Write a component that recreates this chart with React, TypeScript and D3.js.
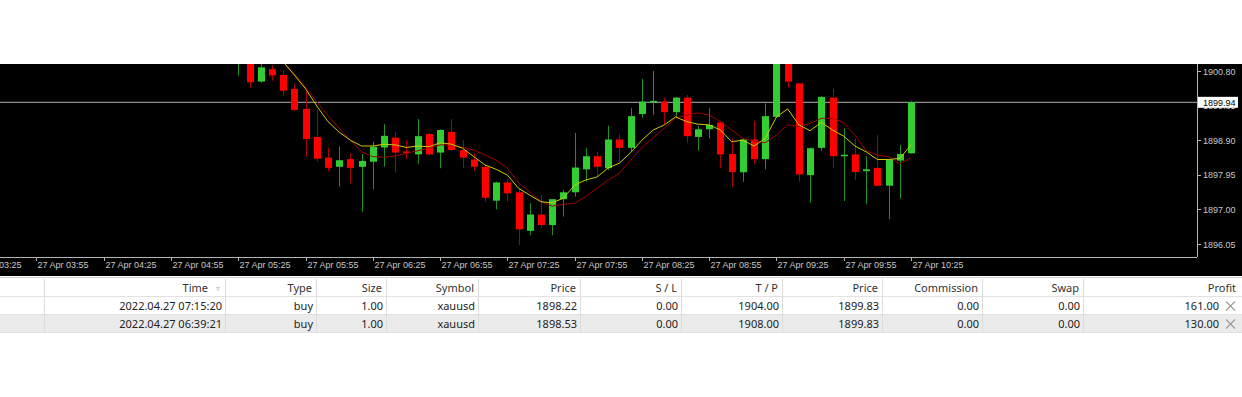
import React from 'react';
import * as d3 from 'd3';

// 5-minute candles, 27 Apr, from 05:25 onwards (earlier bars sit above the visible range)
const candleTimes = [
  '05:25', '05:30', '05:35', '05:40', '05:45', '05:50', '05:55', '06:00', '06:05', '06:10',
  '06:15', '06:20', '06:25', '06:30', '06:35', '06:40', '06:45', '06:50', '06:55', '07:00',
  '07:05', '07:10', '07:15', '07:20', '07:25', '07:30', '07:35', '07:40', '07:45', '07:50',
  '07:55', '08:00', '08:05', '08:10', '08:15', '08:20', '08:25', '08:30', '08:35', '08:40',
  '08:45', '08:50', '08:55', '09:00', '09:05', '09:10', '09:15', '09:20', '09:25', '09:30',
  '09:35', '09:40', '09:45', '09:50', '09:55', '10:00', '10:05', '10:10', '10:15', '10:20',
  '10:25',
];
const opens = [
  1901.30, 1901.00, 1900.51, 1900.85, 1900.69, 1900.31, 1899.76, 1898.99, 1898.42, 1898.17,
  1898.38, 1898.17, 1898.31, 1898.70, 1898.97, 1898.59, 1898.51, 1899.07, 1898.56, 1899.13,
  1898.63, 1898.37, 1898.17, 1897.24, 1897.74, 1897.47, 1896.41, 1896.86, 1896.57, 1897.28,
  1897.47, 1898.10, 1898.46, 1898.13, 1898.92, 1898.69, 1899.62, 1899.95, 1899.96, 1899.67,
  1900.07, 1898.99, 1899.20, 1899.39, 1898.52, 1898.02, 1898.92, 1898.38, 1899.54, 1901.05,
  1900.46, 1897.94, 1898.69, 1900.07, 1898.47, 1898.51, 1898.05, 1898.14, 1897.65, 1898.34,
  1898.54,
];
const highs = [
  1901.80, 1901.10, 1900.99, 1900.96, 1900.81, 1900.46, 1900.23, 1899.73, 1898.70, 1898.72,
  1898.54, 1898.52, 1898.86, 1899.34, 1899.13, 1898.90, 1899.48, 1899.10, 1899.20, 1899.48,
  1898.90, 1898.54, 1898.22, 1897.76, 1897.85, 1897.58, 1897.17, 1897.39, 1897.28, 1897.53,
  1899.10, 1898.69, 1898.58, 1899.30, 1899.07, 1899.78, 1900.58, 1900.80, 1900.07, 1900.08,
  1900.14, 1899.29, 1899.78, 1899.43, 1898.95, 1898.93, 1899.43, 1899.91, 1901.20, 1901.20,
  1900.47, 1898.70, 1900.11, 1900.31, 1899.23, 1898.95, 1898.46, 1899.04, 1898.38, 1898.77,
  1899.98,
];
const lows = [
  1900.67, 1900.34, 1900.48, 1900.53, 1900.12, 1899.71, 1898.45, 1898.31, 1898.05, 1897.62,
  1897.71, 1896.93, 1897.55, 1898.17, 1898.01, 1898.38, 1898.25, 1898.49, 1898.13, 1898.60,
  1898.13, 1898.05, 1897.21, 1897.00, 1897.21, 1896.02, 1896.29, 1896.48, 1896.29, 1896.80,
  1897.35, 1897.76, 1897.90, 1898.08, 1898.26, 1898.58, 1899.52, 1899.59, 1899.32, 1899.54,
  1898.83, 1898.61, 1898.95, 1898.13, 1897.62, 1897.76, 1898.25, 1898.10, 1899.51, 1900.34,
  1897.76, 1897.18, 1898.61, 1898.14, 1897.23, 1897.81, 1897.14, 1897.64, 1896.73, 1897.30,
  1898.53,
];
const closes = [
  1901.60, 1900.49, 1900.90, 1900.68, 1900.26, 1899.73, 1898.93, 1898.39, 1898.14, 1898.35,
  1898.14, 1898.33, 1898.72, 1899.02, 1898.56, 1898.55, 1899.01, 1898.51, 1899.18, 1898.63,
  1898.42, 1898.17, 1897.32, 1897.74, 1897.44, 1896.45, 1896.86, 1896.57, 1897.28, 1897.47,
  1898.15, 1898.46, 1898.17, 1898.92, 1898.69, 1899.56, 1899.96, 1899.98, 1899.67, 1900.07,
  1899.01, 1899.20, 1899.32, 1898.51, 1898.03, 1898.92, 1898.38, 1899.56, 1901.10, 1900.51,
  1897.96, 1898.68, 1900.09, 1898.46, 1898.50, 1898.03, 1898.10, 1897.65, 1898.37, 1898.52,
  1899.94,
];

// moving averages (null = above the visible range)
const maFast = [
  null, null, null, 1901.50, 1901.05, 1900.69, 1900.31, 1899.84, 1899.41, 1899.12,
  1898.90, 1898.74, 1898.74, 1898.79, 1898.77, 1898.70, 1898.74, 1898.72, 1898.83, 1898.79,
  1898.68, 1898.45, 1898.22, 1898.10, 1897.94, 1897.58, 1897.39, 1897.21, 1897.18, 1897.31,
  1897.67, 1897.81, 1897.89, 1898.14, 1898.27, 1898.56, 1898.90, 1899.18, 1899.32, 1899.54,
  1899.41, 1899.34, 1899.32, 1899.18, 1898.86, 1898.90, 1898.74, 1898.95, 1899.54, 1899.76,
  1899.32, 1899.16, 1899.39, 1899.18, 1899.01, 1898.74, 1898.58, 1898.37, 1898.37, 1898.40,
  1898.77,
];
const maSlow = [
  null, null, null, 1901.45, 1901.05, 1900.72, 1900.36, 1899.96, 1899.57, 1899.23,
  1898.90, 1898.58, 1898.45, 1898.43, 1898.47, 1898.54, 1898.61, 1898.69, 1898.77, 1898.77,
  1898.70, 1898.63, 1898.49, 1898.35, 1898.13, 1897.73, 1897.48, 1897.21, 1897.09, 1897.14,
  1897.17, 1897.35, 1897.58, 1897.81, 1897.99, 1898.35, 1898.70, 1898.97, 1899.23, 1899.51,
  1899.59, 1899.65, 1899.59, 1899.41, 1899.18, 1898.95, 1898.88, 1898.83, 1899.04, 1899.32,
  1899.27, 1899.36, 1899.50, 1899.50, 1899.38, 1899.04, 1898.61, 1898.49, 1898.45, 1898.25,
  1898.42,
];

const timeTicks = [
  '27 Apr 03:25', '27 Apr 03:55', '27 Apr 04:25', '27 Apr 04:55', '27 Apr 05:25',
  '27 Apr 05:55', '27 Apr 06:25', '27 Apr 06:55', '27 Apr 07:25', '27 Apr 07:55',
  '27 Apr 08:25', '27 Apr 08:55', '27 Apr 09:25', '27 Apr 09:55', '27 Apr 10:25',
];
const priceTicks = [1900.80, 1899.85, 1898.90, 1897.95, 1897.00, 1896.05];
const currentPrice = 1899.94;

const tableHeaders = ['', 'Time', 'Type', 'Size', 'Symbol', 'Price', 'S / L', 'T / P', 'Price', 'Commission', 'Swap', 'Profit'];
const tableRows = [
  ['', '2022.04.27 07:15:20', 'buy', '1.00', 'xauusd', '1898.22', '0.00', '1904.00', '1899.83', '0.00', '0.00', '161.00'],
  ['', '2022.04.27 06:39:21', 'buy', '1.00', 'xauusd', '1898.53', '0.00', '1908.00', '1899.83', '0.00', '0.00', '130.00'],
];

const W = 1242;
const H = 397;
const plot = { left: 0, right: 1197, top: 64, bottom: 257 };
const colEdges = [0, 44, 225, 316, 386, 478, 580, 681, 782, 882, 982, 1083, 1242];

const toMin = (s: string) => {
  const [h, m] = s.slice(-5).split(':').map(Number);
  return h * 60 + m;
};

export default function App() {
  const x = d3.scaleLinear()
    .domain([toMin(candleTimes[0]), toMin(candleTimes[candleTimes.length - 1])])
    .range([238.3, 911]);
  const y = d3.scaleLinear()
    .domain([1896.05, 1900.80])
    .range([244, 71]);

  const bodyW = 7;
  const bull = '#32cd32';
  const bear = '#ff0000';

  const mkLine = (vals: (number | null)[]) => d3.line<number | null>()
    .defined(v => v !== null)
    .x((_, i) => x(toMin(candleTimes[i])))
    .y(v => y(v as number))(vals) || '';

  const font = 'Tahoma, "Liberation Sans", Arial, sans-serif';
  const tblFont = '"Noto Sans", "Open Sans", sans-serif';
  const rowTop = [279, 297, 315];
  const rowH = 18;

  return (
    <svg width={W} height={H} style={{ position: 'absolute', left: 0, top: 0, background: '#fff' }}>
      <defs>
        <clipPath id="plotclip">
          <rect x={plot.left} y={plot.top} width={plot.right - plot.left} height={plot.bottom - plot.top} />
        </clipPath>
      </defs>
      {/* chart background */}
      <rect x={0} y={plot.top} width={W} height={276 - plot.top} fill="#000" />

      <g clipPath="url(#plotclip)">
        {/* current price line */}
        <line x1={plot.left} x2={plot.right} y1={y(currentPrice)} y2={y(currentPrice)} stroke="#8c8c8c" strokeWidth={1.2} />
        {candleTimes.map((t, i) => {
          const cx = Math.round(x(toMin(t))) + 0.5;
          const up = closes[i] >= opens[i];
          const top = y(Math.max(opens[i], closes[i]));
          const bot = y(Math.min(opens[i], closes[i]));
          return (
            <g key={t}>
              <line x1={cx} x2={cx} y1={y(highs[i])} y2={y(lows[i])} stroke={up ? '#1f8f1f' : '#a80000'} strokeWidth={1} />
              <rect x={cx - bodyW / 2} y={top} width={bodyW} height={Math.max(1.5, bot - top)} fill={up ? bull : bear} />
            </g>
          );
        })}
        <path d={mkLine(maSlow)} fill="none" stroke="#a00000" strokeWidth={1} />
        <path d={mkLine(maFast)} fill="none" stroke="#cccc00" strokeWidth={1} />
      </g>

      {/* axes */}
      <line x1={plot.right + 0.5} x2={plot.right + 0.5} y1={plot.top} y2={plot.bottom} stroke="#b4b4b4" />
      <line x1={0} x2={plot.right} y1={plot.bottom + 0.5} y2={plot.bottom + 0.5} stroke="#b4b4b4" />

      {priceTicks.map(p => (
        <g key={p}>
          <line x1={plot.right} x2={plot.right + 4} y1={Math.round(y(p)) + 0.5} y2={Math.round(y(p)) + 0.5} stroke="#b4b4b4" />
          <text x={plot.right + 6} y={y(p) + 3.5} fill="#c8c8c8" fontSize={9} fontFamily={font}>{p.toFixed(2)}</text>
        </g>
      ))}
      {/* current price label */}
      <rect x={plot.right + 1} y={y(currentPrice) - 5.5} width={40} height={11} fill="#fff" />
      <text x={plot.right + 6} y={y(currentPrice) + 3.5} fill="#000" fontSize={9} fontFamily={font}>{currentPrice.toFixed(2)}</text>

      {timeTicks.map(t => {
        const tx = Math.round(x(toMin(t))) + 0.5;
        return (
          <g key={t}>
            <line x1={tx} x2={tx} y1={plot.bottom} y2={plot.bottom + 4} stroke="#b4b4b4" />
            <text x={tx + 1} y={plot.bottom + 11} fill="#c8c8c8" fontSize={9} fontFamily={font}>{t}</text>
          </g>
        );
      })}

      {/* trade table */}
      <line x1={0} x2={W} y1={277.5} y2={277.5} stroke="#d0d0d0" />
      <rect x={0} y={rowTop[2]} width={W} height={rowH} fill="#ebebeb" />
      {rowTop.map((rt, r) => (
        <line key={r} x1={0} x2={W} y1={rt + rowH - 0.5} y2={rt + rowH - 0.5} stroke="#e2e2e2" />
      ))}
      {colEdges.slice(1, -1).map(cx => (
        <line key={cx} x1={cx + 0.5} x2={cx + 0.5} y1={279} y2={rowTop[2] + rowH} stroke="#dcdcdc" />
      ))}
      {tableHeaders.map((h, c) => {
        if (!h) return null;
        const right = c === 1 ? 208 : c === tableHeaders.length - 1 ? 1236 : colEdges[c + 1] - 4;
        return (
          <text key={c} x={right} y={rowTop[0] + 13} textAnchor="end" fontSize={11} fill="#333" fontFamily={tblFont}>{h}</text>
        );
      })}
      <text x={218} y={rowTop[0] + 12} textAnchor="middle" fontSize={8} fill="#aaa" fontFamily={tblFont}>▿</text>
      {tableRows.map((row, r) => {
        const cy = rowTop[r + 1] + rowH / 2;
        return (
          <g key={r}>
            {row.map((v, c) => {
              if (!v) return null;
              const right = c === row.length - 1 ? 1219 : colEdges[c + 1] - 3;
              return (
                <text key={c} x={right} y={rowTop[r + 1] + 13} textAnchor="end" fontSize={11} fill="#222" fontFamily={tblFont}>{v}</text>
              );
            })}
            {/* close icon */}
            <path d={`M${1226},${cy - 4.5}L${1235},${cy + 4.5}M${1235},${cy - 4.5}L${1226},${cy + 4.5}`} stroke="#9a9a9a" strokeWidth={1.1} fill="none" />
          </g>
        );
      })}
    </svg>
  );
}
